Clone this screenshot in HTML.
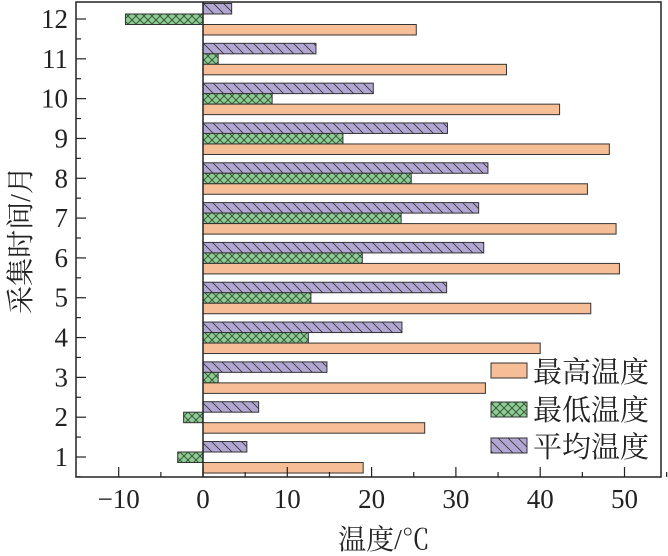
<!DOCTYPE html>
<html><head><meta charset="utf-8"><style>body{margin:0;background:#fff}svg{display:block}</style></head><body>
<svg width="668" height="556" xmlns="http://www.w3.org/2000/svg" font-family="'Liberation Serif','Noto Serif CJK SC',serif">
<defs>
<pattern id="cx" width="8" height="8" patternUnits="userSpaceOnUse"><rect width="8" height="8" fill="#8fcb94"/><path d="M0,0L8,8M8,0L0,8" stroke="#2a4a2e" stroke-width="0.8"/></pattern>
<pattern id="dg" width="10" height="10" patternUnits="userSpaceOnUse"><rect width="10" height="10" fill="#b2a7d2"/><path d="M0,0L10,10M-5,5L5,15M5,-5L15,5" stroke="#333" stroke-width="0.8"/></pattern>
</defs>
<g id="bars" stroke="#333" stroke-width="1"></g>
<rect x="76" y="2" width="585" height="475" fill="none" stroke="#222" stroke-width="1.5"/>
<line x1="203" y1="2" x2="203" y2="477" stroke="#222" stroke-width="1.5"/>
<g id="ticks" stroke="#222" stroke-width="1.2"></g>
<g id="lbl" font-size="27" fill="#222"></g>
<text x="384" y="549" font-size="28" text-anchor="middle" fill="#222">温度/℃</text>
<text transform="translate(30,240) rotate(-90)" font-size="28" text-anchor="middle" fill="#222">采集时间/月</text>
<g stroke="#333" stroke-width="1">
<rect x="491" y="363" width="36" height="15" fill="#f5be96"/>
<rect x="491" y="402" width="36" height="15" fill="url(#cx)"/>
<rect x="491" y="438" width="36" height="15" fill="url(#dg)"/>
</g>
<g font-size="29" fill="#222"><text x="533" y="382">最高温度</text><text x="533" y="420">最低温度</text><text x="533" y="457">平均温度</text></g>
<script>
var d={12:[25.3,-9.2,3.4],11:[36,1.8,13.4],10:[42.3,8.2,20.2],9:[48.2,16.6,29],8:[45.6,24.7,33.8],7:[49,23.5,32.7],6:[49.4,18.9,33.3],5:[46,12.8,28.9],4:[40,12.5,23.6],3:[33.5,1.8,14.7],2:[26.3,-2.3,6.6],1:[19,-3,5.2]};
var X=v=>203+8.43*v,NS="http://www.w3.org/2000/svg";
function el(p,t,a,tx){var e=document.createElementNS(NS,t);for(var k in a)e.setAttribute(k,a[k]);if(tx!==undefined)e.textContent=String(tx);document.getElementById(p).appendChild(e);}
function bar(v,y,f){var a=X(0),b=X(v);el('bars','rect',{x:Math.min(a,b),y:y,width:Math.abs(b-a),height:10.5,fill:f});}
for(var m=1;m<=12;m++){var y=19+(12-m)*39.82;bar(d[m][2],y-15.5,'url(#dg)');bar(d[m][1],y-5,'url(#cx)');bar(d[m][0],y+5.5,'#f5be96');
el('ticks','line',{x1:76,y1:y,x2:86,y2:y});el('ticks','line',{x1:76,y1:y+19.9,x2:81,y2:y+19.9});
el('lbl','text',{x:68,y:y+9,'text-anchor':'end'},m);}
for(var v=-10;v<=50;v+=10){el('ticks','line',{x1:X(v),y1:477,x2:X(v),y2:467});el('ticks','line',{x1:X(v+5),y1:477,x2:X(v+5),y2:472});
el('lbl','text',{x:X(v),y:508,'text-anchor':'middle'},v<0?'\u2212'+(-v):v);}
</script>
</svg>
</body></html>
